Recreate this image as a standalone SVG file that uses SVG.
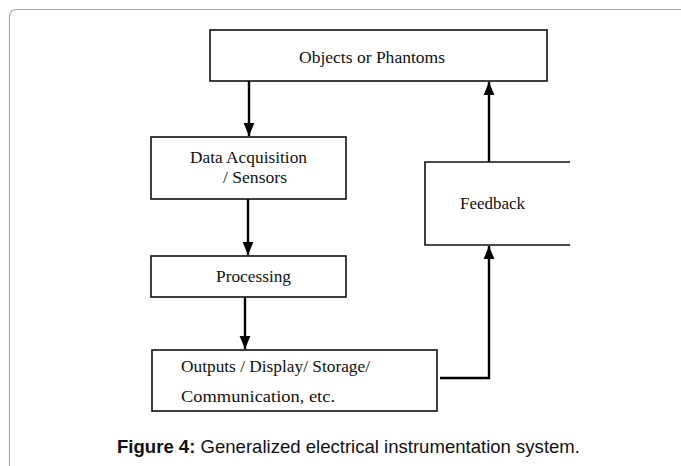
<svg xmlns="http://www.w3.org/2000/svg" width="681" height="466" viewBox="0 0 681 466">
<style>
.box{fill:#fff;stroke:#111;stroke-width:1.6}
.t{font-family:"Liberation Serif",serif;font-size:17.5px;fill:#111}
.ln{stroke:#000;stroke-width:2.4;fill:none}
.cap{font-family:"Liberation Sans",Arial,sans-serif;font-size:18.5px;fill:#111}
</style>
<defs>
<marker id="ah" viewBox="0 0 12 10" refX="12" refY="5" markerWidth="5.5" markerHeight="4.6" orient="auto" markerUnits="strokeWidth">
<path d="M0,0 L12,5 L0,10 z" fill="#000"/>
</marker>
</defs>
<rect x="0" y="0" width="681" height="466" fill="#fff"/>
<path d="M9.5,470 V16 a6.5,6.5 0 0 1 6.5,-6.5 H690" fill="none" stroke="#aaa" stroke-width="1.2"/>
<g id="objects">
<rect class="box" x="210" y="30" width="337" height="51"/>
<text class="t" x="299" y="63" textLength="146" lengthAdjust="spacingAndGlyphs">Objects or Phantoms</text>
</g>
<g id="acquisition">
<rect class="box" x="151" y="137" width="195" height="62"/>
<text class="t" x="190" y="163" textLength="117" lengthAdjust="spacingAndGlyphs">Data Acquisition</text>
<text class="t" x="223" y="183" textLength="64" lengthAdjust="spacingAndGlyphs">/ Sensors</text>
</g>
<g id="processing">
<rect class="box" x="151" y="256" width="195" height="41"/>
<text class="t" x="216" y="282" textLength="75" lengthAdjust="spacingAndGlyphs">Processing</text>
</g>
<g id="outputs">
<rect class="box" x="152" y="350" width="285" height="61"/>
<text class="t" x="181" y="372" textLength="189" lengthAdjust="spacingAndGlyphs">Outputs / Display/ Storage/</text>
<text class="t" x="181" y="402" textLength="154" lengthAdjust="spacingAndGlyphs">Communication, etc.</text>
</g>
<g id="feedback">
<path class="box" d="M570,162 H425 V245 H570"/>
<text class="t" x="460" y="209" textLength="65" lengthAdjust="spacingAndGlyphs">Feedback</text>
</g>
<g id="connectors">
<line class="ln" x1="249" y1="81" x2="249" y2="136" marker-end="url(#ah)"/>
<line class="ln" x1="248" y1="199" x2="248" y2="255" marker-end="url(#ah)"/>
<line class="ln" x1="245" y1="297" x2="245" y2="349" marker-end="url(#ah)"/>
<polyline class="ln" points="440,378 489,378 489,246" marker-end="url(#ah)"/>
<line class="ln" x1="489" y1="162" x2="489" y2="82" marker-end="url(#ah)"/>
</g>
<text class="cap" x="117" y="453" textLength="463" lengthAdjust="spacingAndGlyphs"><tspan font-weight="bold">Figure 4:</tspan> Generalized electrical instrumentation system.</text>
</svg>
